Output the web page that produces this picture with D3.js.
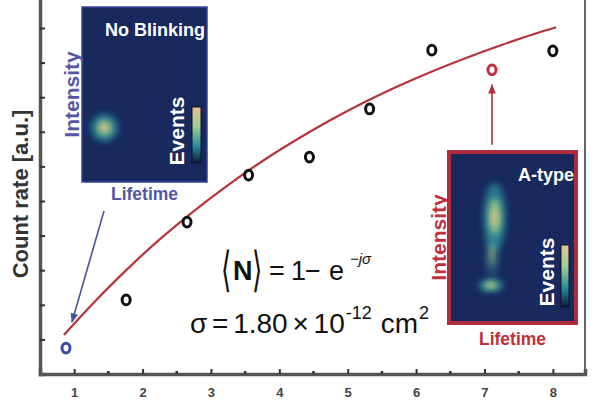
<!DOCTYPE html>
<html>
<head>
<meta charset="utf-8">
<script src="https://cdn.jsdelivr.net/npm/d3@7"></script>
<style>
  body { margin: 0; background: #fff; }
  svg { display: block; font-family: "Liberation Sans", Arial, sans-serif; }
</style>
</head>
<body>
<svg id="chart" width="600" height="400"></svg>
<script>
// values
var fluxX = [0.88, 1.76, 2.65, 3.55, 4.44, 5.32, 6.23, 7.11, 8.0];
var countRate = [0.75, 2.14, 4.39, 5.75, 6.27, 7.66, 9.36, 8.79, 9.34];
var pointKind = ["noblink", "dot", "dot", "dot", "dot", "dot", "dot", "atype", "dot"];

// fitted curve
var fitX = [0.85, 1.25, 1.75, 2.25, 2.75, 3.25, 3.75, 4.25, 4.75, 5.25, 5.75, 6.25, 6.75, 7.25, 7.75, 8.05];
var fitY = [1.13, 1.99, 2.98, 3.89, 4.71, 5.46, 6.15, 6.77, 7.34, 7.86, 8.33, 8.76, 9.15, 9.51, 9.84, 10.02];

var xTicks = [1, 2, 3, 4, 5, 6, 7, 8];
var xMinorTicks = [1.5, 2.5, 3.5, 4.5, 5.5, 6.5, 7.5];
var yTicks = [1, 2, 3, 4, 5, 6, 7, 8, 9, 10];

// inset heat maps: blob centre (lifetime, intensity, 0..1), spread, strength
var noBlinkBlobs = [[0.18, 0.31, 0.11, 0.08, 1]];
var aTypeBlobs = [[0.36, 0.62, 0.09, 0.2, 1], [0.34, 0.4, 0.06, 0.14, 0.45], [0.33, 0.22, 0.1, 0.04, 1]];

var svg = d3.select("#chart");
var x = d3.scaleLinear().domain([0.5, 8.47]).range([40, 585]);
var y = d3.scaleLinear().domain([0, 11]).range([374, -6.6]);

var defs = svg.append("defs");
defs.append("filter").attr("id", "blur").attr("x", "-50%").attr("y", "-50%")
  .attr("width", "200%").attr("height", "200%")
  .append("feGaussianBlur").attr("stdDeviation", 3);

var cb = defs.append("linearGradient").attr("id", "cbar")
  .attr("x1", 0).attr("y1", 0).attr("x2", 0).attr("y2", 1);
cb.append("stop").attr("offset", "0%").attr("stop-color", "#e9c08e");
cb.append("stop").attr("offset", "35%").attr("stop-color", "#9fcf93");
cb.append("stop").attr("offset", "70%").attr("stop-color", "#2a8a96");
cb.append("stop").attr("offset", "100%").attr("stop-color", "#0f1b3c");

defs.append("marker").attr("id", "arrBlue").attr("viewBox", "0 0 10 10")
  .attr("refX", 9).attr("refY", 5).attr("markerWidth", 6).attr("markerHeight", 6)
  .attr("orient", "auto")
  .append("path").attr("d", "M0,1L10,5L0,9z").attr("fill", "#4a52a2");
defs.append("marker").attr("id", "arrRed").attr("viewBox", "0 0 10 10")
  .attr("refX", 9).attr("refY", 5).attr("markerWidth", 6).attr("markerHeight", 6)
  .attr("orient", "auto")
  .append("path").attr("d", "M0,1L10,5L0,9z").attr("fill", "#b03040");

// axes
var yAxis = svg.append("g")
  .attr("transform", "translate(40,0)")
  .call(d3.axisLeft(y).tickValues(yTicks).tickSize(-5).tickFormat(""));
yAxis.select(".domain").attr("stroke", "#555").attr("stroke-width", 3.5);
yAxis.selectAll(".tick line").attr("stroke", "#333").attr("stroke-width", 2);

svg.append("line")
  .attr("x1", x(8.47)).attr("x2", x(8.47))
  .attr("y1", y(0)).attr("y2", 0)
  .attr("stroke", "#666").attr("stroke-width", 2);

var xAxis = svg.append("g")
  .attr("transform", "translate(0," + y(0) + ")")
  .call(d3.axisBottom(x).tickValues(xTicks).tickSize(-5).tickPadding(14));
xAxis.select(".domain").attr("stroke", "#555").attr("stroke-width", 3.5);
xAxis.selectAll(".tick line").attr("stroke", "#333").attr("stroke-width", 2);
xAxis.selectAll("text")
  .style("font-size", "13px").style("font-weight", "bold").attr("fill", "#444");

svg.append("g").selectAll("line")
  .data(xMinorTicks)
  .enter().append("line")
  .attr("x1", function(d) { return x(d); })
  .attr("x2", function(d) { return x(d); })
  .attr("y1", y(0)).attr("y2", y(0) - 3)
  .attr("stroke", "#333").attr("stroke-width", 2.5);

svg.append("text")
  .attr("transform", "translate(28,194) rotate(-90)")
  .attr("text-anchor", "middle")
  .style("font-size", "22px").style("font-weight", "bold")
  .attr("fill", "#333")
  .text("Count rate [a.u.]");

// fit
var line = d3.line()
  .x(function(d) { return x(d[0]); })
  .y(function(d) { return y(d[1]); })
  .curve(d3.curveMonotoneX);

svg.append("path")
  .datum(d3.zip(fitX, fitY))
  .attr("d", line)
  .attr("fill", "none")
  .attr("stroke", "#b8323c")
  .attr("stroke-width", 2.2);

// data points
var colors = { noblink: "#3b49a8", atype: "#c4303e", dot: "#111" };
svg.append("g").selectAll("ellipse")
  .data(d3.zip(fluxX, countRate, pointKind))
  .enter().append("ellipse")
  .attr("cx", function(d) { return x(d[0]); })
  .attr("cy", function(d) { return y(d[1]); })
  .attr("rx", 4).attr("ry", 4.9)
  .attr("fill", "none")
  .attr("stroke", function(d) { return colors[d[2]]; })
  .attr("stroke-width", 3);

// insets
function drawInset(box, blobs, title, labelColor, borderColor, borderW, cbBox, evX, lifeY) {
  var g = svg.append("g");
  var lx = d3.scaleLinear().domain([0, 1]).range([box.x, box.x + box.w]);
  var ly = d3.scaleLinear().domain([0, 1]).range([box.y + box.h, box.y]);
  g.append("rect")
    .attr("x", box.x).attr("y", box.y).attr("width", box.w).attr("height", box.h)
    .attr("fill", "#18295e")
    .attr("stroke", borderColor).attr("stroke-width", borderW);
  var layers = [[1, "#2b8f9a", 0.75], [0.55, "#9fd08a", 0.85], [0.25, "#e6b47e", 0.95]];
  blobs.forEach(function(b) {
    layers.forEach(function(l) {
      g.append("ellipse")
        .attr("cx", lx(b[0])).attr("cy", ly(b[1]))
        .attr("rx", (lx(b[2]) - lx(0)) * l[0])
        .attr("ry", (ly(0) - ly(b[3])) * l[0])
        .attr("fill", l[1]).attr("opacity", l[2] * b[4])
        .attr("filter", "url(#blur)");
    });
  });
  g.append("rect")
    .attr("x", cbBox[0]).attr("y", cbBox[1]).attr("width", cbBox[2]).attr("height", cbBox[3])
    .attr("fill", "url(#cbar)").attr("stroke", "#0a1230").attr("stroke-width", 1);
  g.append("text")
    .attr("transform", "translate(" + evX + "," + (cbBox[1] + cbBox[3] / 2 - 4) + ") rotate(-90)")
    .attr("text-anchor", "middle")
    .style("font-size", "21px").style("font-weight", "bold").attr("fill", "#fff")
    .text("Events");
  g.append("text")
    .attr("x", box.x + box.w - 2).attr("y", box.y + 29)
    .attr("text-anchor", "end")
    .style("font-size", "18px").style("font-weight", "bold").attr("fill", "#fff")
    .text(title);
  g.append("text")
    .attr("transform", "translate(" + (box.x - 3) + "," + (box.y + box.h * 0.5) + ") rotate(-90)")
    .attr("text-anchor", "middle")
    .style("font-size", "21px").style("font-weight", "bold").attr("fill", labelColor)
    .text("Intensity");
  g.append("text")
    .attr("x", box.x + box.w / 2).attr("y", lifeY)
    .attr("text-anchor", "middle")
    .style("font-size", "17.5px").style("font-weight", "bold").attr("fill", labelColor)
    .text("Lifetime");
}

drawInset({ x: 82, y: 7, w: 125, h: 175 }, noBlinkBlobs, "No Blinking",
  "#5456a6", "#34449a", 1.5, [192, 107, 9, 56], 184, 200);
drawInset({ x: 449, y: 152, w: 127, h: 171 }, aTypeBlobs, "A-type",
  "#c0303c", "#b02c3c", 4, [561, 245, 8, 62], 554, 345);

// arrows
svg.append("line")
  .attr("x1", 104).attr("y1", 211)
  .attr("x2", x(fluxX[0]) + 6).attr("y2", y(countRate[0]) - 26)
  .attr("stroke", "#4a52a2").attr("stroke-width", 1.6)
  .attr("marker-end", "url(#arrBlue)");
svg.append("line")
  .attr("x1", x(fluxX[7])).attr("y1", y(countRate[7]) + 75)
  .attr("x2", x(fluxX[7])).attr("y2", y(countRate[7]) + 15)
  .attr("stroke", "#b03040").attr("stroke-width", 1.6)
  .attr("marker-end", "url(#arrRed)");

// formula
var bracket = function(ch, bx) {
  svg.append("text")
    .attr("transform", "translate(" + bx + ",286) scale(0.55,1)")
    .style("font-family", "'DejaVu Sans',sans-serif").style("font-weight", "200")
    .style("font-size", "48px").attr("fill", "#111")
    .text(ch);
};
bracket("\u27E8", 221);
bracket("\u27E9", 252);

var f1 = svg.append("text").attr("y", 280)
  .style("font-size", "27px").attr("fill", "#111");
f1.append("tspan").attr("x", 233).style("font-weight", "bold").text("N");
f1.append("tspan").attr("x", 269).text("=");
f1.append("tspan").attr("x", 291).text("1");
f1.append("tspan").attr("x", 305).text("\u2212");
f1.append("tspan").attr("x", 329).text("e");
f1.append("tspan").attr("x", 350).attr("dy", -16).style("font-size", "15px").style("font-style", "italic")
  .text("\u2212j\u03C3");

var f2 = svg.append("text").attr("x", 190).attr("y", 333)
  .style("font-size", "28px").style("word-spacing", "-3px").attr("fill", "#111");
f2.append("tspan").text("\u03C3 = 1.80 \u00D7 10");
f2.append("tspan").attr("dx", 1).attr("dy", -14).style("font-size", "18px").text("-12");
f2.append("tspan").attr("dx", 9).attr("dy", 14).text("cm");
f2.append("tspan").attr("dx", 1).attr("dy", -14).style("font-size", "18px").text("2");
</script>
</body>
</html>
